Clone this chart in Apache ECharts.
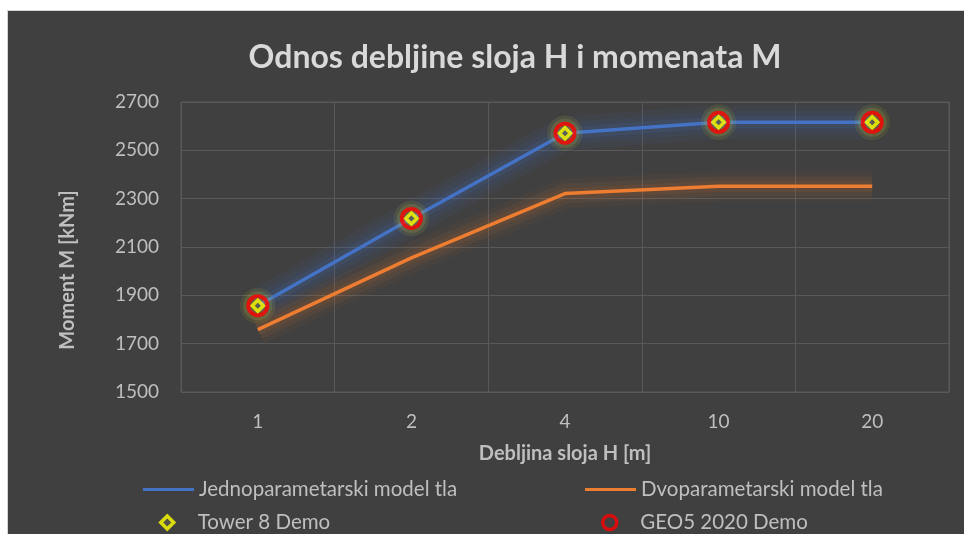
<!DOCTYPE html>
<html>
<head>
<meta charset="utf-8">
<script src="https://cdn.jsdelivr.net/npm/echarts@6/dist/echarts.min.js"></script>
<style>
  html, body { margin: 0; padding: 0; background: #ffffff; }
  #frame {
    position: absolute; left: 7px; top: 10px; width: 957px; height: 524px;
    background: #d4d4d4;
  }
  #chart {
    position: absolute; left: 1px; top: 1px; width: 956px; height: 523px;
  }
</style>
</head>
<body>
<div id="frame"><div id="chart"></div></div>
<script>
// Layer thickness H [m]
const categories = ['1', '2', '4', '10', '20'];
// Bending moment M [kNm] for each soil model
const oneParamModel = [1857, 2218, 2571, 2616, 2616];
const twoParamModel = [1758, 2055, 2321, 2351, 2351];
// Software check values
const tower8 = [1857, 2218, 2571, 2616, 2616];
const geo5 = [1857, 2218, 2571, 2616, 2616];

const FONT = 'Lato';
const LABEL = '#bfbfbf';
const GRIDC = '#595959';
const BLUE = '#4472C4';
const ORANGE = '#ED7D31';
const diamondIcon = 'path://M0,-10L10,0L0,10L-10,0Z';

const chart = echarts.init(document.getElementById('chart'));

const legendText = { color: LABEL, fontSize: 20.5, fontFamily: FONT };

// soft glow under a line: a few wide, faint, blurred strokes
function haloLines(data, rgb, layers) {
  return layers.map(([w, a]) => ({
    type: 'line', data, symbol: 'none', silent: true, z: 1,
    lineStyle: {
      color: 'rgba(' + rgb + ',' + a + ')', width: w,
      shadowBlur: 12, shadowColor: 'rgba(' + rgb + ',' + a + ')'
    },
    emphasis: { disabled: true }
  }));
}

// soft glow behind the point markers
function haloDots(data, rgb, layers) {
  return layers.map(([s, a]) => ({
    type: 'scatter', data, symbol: 'circle', symbolSize: s, silent: true, z: 3,
    itemStyle: {
      color: 'rgba(' + rgb + ',' + a + ')',
      shadowBlur: 8, shadowColor: 'rgba(' + rgb + ',' + a + ')'
    },
    emphasis: { disabled: true }
  }));
}

chart.setOption({
  backgroundColor: '#404040',
  animation: false,
  textStyle: { fontFamily: FONT },
  title: {
    text: 'Odnos debljine sloja H i momenata M',
    left: 507, top: 31, textAlign: 'center', padding: 0,
    textStyle: { color: '#d9d9d9', fontSize: 32, fontWeight: 'bold', fontFamily: FONT }
  },
  grid: { left: 173, right: 15, top: 91, bottom: 142, show: true, borderColor: GRIDC, borderWidth: 1 },
  xAxis: {
    type: 'category',
    data: categories,
    boundaryGap: true,
    axisLine: { show: false },
    axisTick: { show: false },
    axisLabel: { color: LABEL, fontSize: 19, margin: 20, fontFamily: FONT },
    splitLine: { show: true, lineStyle: { color: GRIDC, width: 1 } },
    name: 'Debljina sloja H [m]',
    nameLocation: 'middle',
    nameGap: 52,
    nameTextStyle: { color: LABEL, fontSize: 20, fontWeight: 'bold', fontFamily: FONT }
  },
  yAxis: {
    type: 'value',
    min: 1500, max: 2700, interval: 200,
    axisLine: { show: false },
    axisTick: { show: false },
    axisLabel: { color: LABEL, fontSize: 19, margin: 22, fontFamily: FONT, formatter: v => String(v) },
    splitLine: { show: true, lineStyle: { color: GRIDC, width: 1 } }
  },
  graphic: [{
    type: 'text',
    x: 60, y: 259,
    rotation: Math.PI / 2,
    style: {
      text: 'Moment M [kNm]',
      fill: LABEL,
      font: 'bold 20px ' + FONT,
      textAlign: 'center',
      textVerticalAlign: 'middle'
    }
  }],
  legend: [
    { data: [{ name: 'Jednoparametarski model tla', icon: 'rect' }], left: 135, top: 468,
      itemWidth: 51, itemHeight: 3, textStyle: legendText, padding: 0 },
    { data: [{ name: 'Dvoparametarski model tla', icon: 'rect' }], left: 577, top: 468,
      itemWidth: 51, itemHeight: 3, textStyle: legendText, padding: 0 },
    { data: [{ name: 'Tower 8 Demo', icon: diamondIcon }], left: 151, top: 501,
      itemWidth: 51, itemHeight: 13, symbolKeepAspect: true,
      itemStyle: { borderWidth: 3.5 }, textStyle: legendText, padding: 0 },
    { data: [{ name: 'GEO5 2020 Demo' }], left: 593, top: 501,
      itemWidth: 51, itemHeight: 14,
      itemStyle: { borderWidth: 3.5 }, textStyle: legendText, padding: 0 }
  ],
  series: [
    ...haloLines(twoParamModel, '237,125,49', [[30, 0.05], [20, 0.07], [11, 0.09]]),
    ...haloLines(oneParamModel, '68,114,196', [[34, 0.07], [22, 0.09], [12, 0.12]]),
    {
      name: 'Dvoparametarski model tla',
      type: 'line',
      data: twoParamModel,
      symbol: 'none',
      color: ORANGE,
      lineStyle: { color: ORANGE, width: 3.5 },
      z: 2
    },
    {
      name: 'Jednoparametarski model tla',
      type: 'line',
      data: oneParamModel,
      symbol: 'none',
      color: BLUE,
      lineStyle: { color: BLUE, width: 3.5 },
      z: 2
    },
    ...haloDots(geo5, '200,200,60', [[36, 0.12], [29, 0.2]]),
    {
      name: 'GEO5 2020 Demo',
      type: 'scatter',
      data: geo5,
      symbol: 'circle',
      symbolSize: 19,
      itemStyle: {
        color: 'rgba(0,0,0,0)',
        borderColor: '#FF0000',
        borderWidth: 4
      },
      z: 4
    },
    {
      name: 'Tower 8 Demo',
      type: 'scatter',
      data: tower8,
      symbol: diamondIcon,
      symbolSize: 11,
      color: '#FFFF00',
      itemStyle: {
        color: '#55554a',
        borderColor: '#FFFF00',
        borderWidth: 3.5
      },
      z: 5
    }
  ]
});
</script>
</body>
</html>
